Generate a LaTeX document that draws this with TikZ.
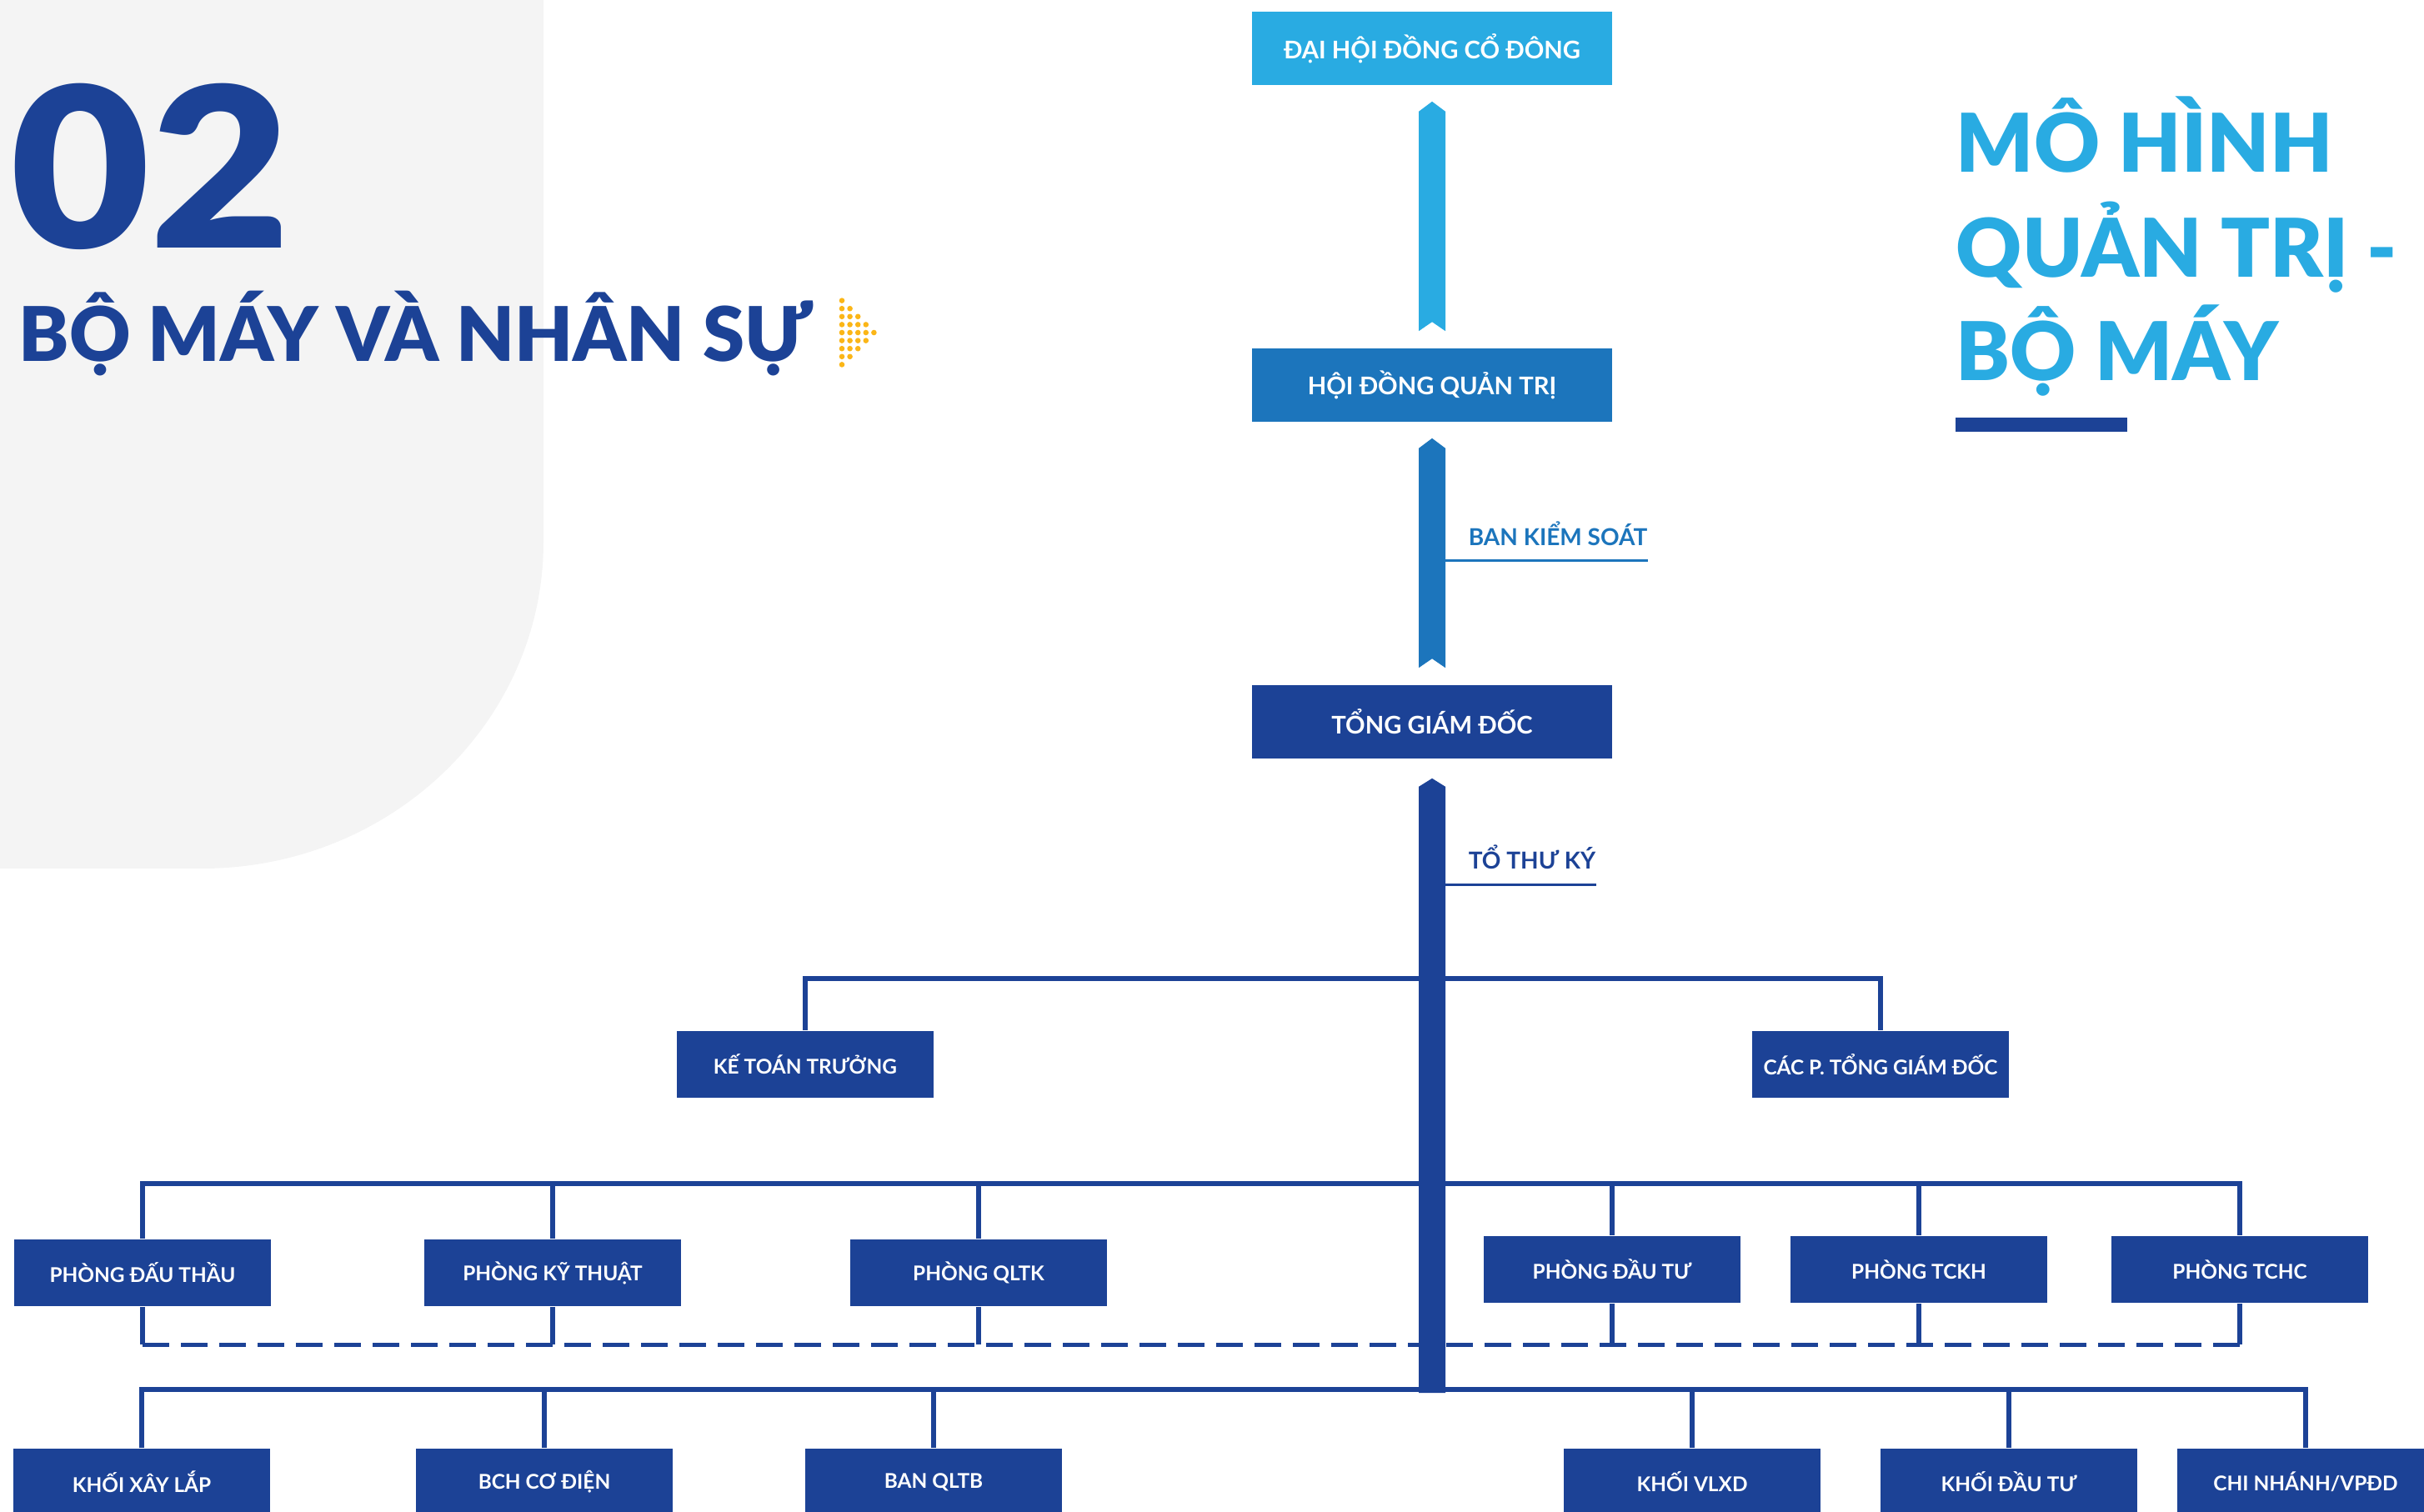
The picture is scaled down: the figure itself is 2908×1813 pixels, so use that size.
\documentclass[tikz,border=0pt]{standalone}
\usepackage{fontspec}
\usepackage{graphicx}
\setmainfont{Lato}
\newfontfamily\heavyfont{Lato Black}
\usetikzlibrary{calc}

\definecolor{darkblue}{RGB}{28,66,150}
\definecolor{midblue}{RGB}{28,117,188}
\definecolor{lightblue}{RGB}{41,171,226}
\definecolor{bggray}{RGB}{244,244,244}
\definecolor{dotyellow}{RGB}{251,182,23}

\tikzset{
  topbox/.style={fill=#1, text=white, minimum width=108pt, minimum height=22pt,
    inner sep=0pt, font=\bfseries\fontsize{7.3}{8}\selectfont},
  unitbox/.style={fill=darkblue, text=white, minimum width=77pt, minimum height=20pt,
    inner sep=0pt, font=\bfseries\fontsize{6.1}{7}\selectfont},
  bus/.style={darkblue, line width=1.6pt},
  dashbus/.style={darkblue, line width=1.25pt, dash pattern=on 8pt off 3.5pt},
  tag/.style={inner sep=0pt, anchor=base west, font=\bfseries\fontsize{7}{8}\selectfont},
  heading/.style={inner sep=0pt, anchor=base west},
}

% thanh noi giua hai o (dau nhon o tren, khuyet o duoi)
\newcommand{\ribbon}[3]{%
  \fill[#1] ($(#2.south)+(0,19)$) -- ++(16,12) -- ($(#3.north)+(16,-20)$)
    -- ++(-16,-11) -- ++(-16,11) -- ($(#2.south)+(-16,31)$) -- cycle;}

\begin{document}
\begin{tikzpicture}[x=0.25pt,y=-0.25pt]
\useasboundingbox (0,0) rectangle (2908,1813);

% nen xam ben trai
\fill[bggray] (0,0) -- (652,0) -- (652,650)
  arc[start angle=0, end angle=90, x radius=410, y radius=392] -- (0,1042) -- cycle;

% tieu de trai
\node[heading, text=darkblue, font=\heavyfont\fontsize{67}{67}\selectfont] (num) at (12,297) {\scalebox{1.08}[1]{02}};
\node[heading, text=darkblue, font=\heavyfont\fontsize{22.6}{24}\selectfont] (sect) at (22,433) {BỘ MÁY VÀ NHÂN SỰ};
\foreach \i in {0,...,4}{
  \pgfmathtruncatemacro\n{4-\i}
  \foreach \j in {-\n,...,\n}
    \fill[dotyellow] ({1010+9.6*\i},{399+9.6*\j}) circle[radius=3.3];
}

% tieu de phai
\node[heading, text=lightblue, font=\heavyfont\fontsize{24.3}{30}\selectfont] (ttl1) at (2346,206) {MÔ HÌNH};
\node[heading, text=lightblue, font=\heavyfont\fontsize{24.3}{30}\selectfont] (ttl2) at (2346,332) {QUẢN TRỊ -};
\node[heading, text=lightblue, font=\heavyfont\fontsize{24.3}{30}\selectfont] (ttl3) at (2346,456) {BỘ MÁY};
\fill[darkblue] (2346,501) rectangle (2552,518);

% cap tren
\node[topbox=lightblue] (dhcd) at (1718,58) {ĐẠI HỘI ĐỒNG CỔ ĐÔNG};
\node[topbox=midblue] (hdqt) at (1718,462) {HỘI ĐỒNG QUẢN TRỊ};
\node[topbox=darkblue] (tgd) at (1718,866) {TỔNG GIÁM ĐỐC};
\ribbon{lightblue}{dhcd}{hdqt}
\ribbon{midblue}{hdqt}{tgd}

\node[tag, text=midblue] (bks) at (1761,654) {BAN KIỂM SOÁT};
\coordinate (bksline) at (1734,672);
\draw[midblue, line width=0.75pt] (bksline) -- (bksline -| bks.east);
\node[tag, text=darkblue] (ttk) at (1761,1042) {TỔ THƯ KÝ};
\coordinate (ttkline) at (1734,1061);
\draw[darkblue, line width=0.75pt] (ttkline) -- (ttkline -| ttk.east);

% hang 1
\node[unitbox] (ktt) at (966,1277) {KẾ TOÁN TRƯỞNG};
\node[unitbox] (cpt) at (2256,1277) {CÁC P. TỔNG GIÁM ĐỐC};
\coordinate (bus1) at (1718,1174);
\draw[bus] (ktt.north) |- (bus1) -| (cpt.north);

% hang 2
\node[unitbox] (pdt) at (171,1527) {PHÒNG ĐẤU THẦU};
\node[unitbox] (pkt) at (663,1527) {PHÒNG KỸ THUẬT};
\node[unitbox] (qltk) at (1174,1527) {PHÒNG QLTK};
\node[unitbox] (pdtu) at (1934,1523) {PHÒNG ĐẦU TƯ};
\node[unitbox] (tckh) at (2302,1523) {PHÒNG TCKH};
\node[unitbox] (tchc) at (2687,1523) {PHÒNG TCHC};
\coordinate (bus2) at (1718,1420);
\coordinate (dash2) at (1718,1613);
\draw[bus] (pdt.north) |- (bus2) -| (tchc.north);
\foreach \b in {pkt,qltk,pdtu,tckh}
  \draw[bus] (\b.north) -- (\b.north |- bus2);
\foreach \b in {pdt,pkt,qltk,pdtu,tckh,tchc}
  \draw[bus] (\b.south) -- (\b.south |- dash2);
\draw[dashbus] (pdt.south |- dash2) -- (tchc.south |- dash2);

% hang 3
\node[unitbox] (kxl) at (170,1778) {KHỐI XÂY LẮP};
\node[unitbox] (bch) at (653,1778) {BCH CƠ ĐIỆN};
\node[unitbox] (qltb) at (1120,1778) {BAN QLTB};
\node[unitbox] (vlxd) at (2030,1778) {KHỐI VLXD};
\node[unitbox] (kdt) at (2410,1778) {KHỐI ĐẦU TƯ};
\node[unitbox] (cn) at (2766,1778) {CHI NHÁNH/VPĐD};
\coordinate (bus3) at (1718,1667);
\draw[bus] (kxl.north) |- (bus3) -| (cn.north);
\foreach \b in {bch,qltb,vlxd,kdt}
  \draw[bus] (\b.north) -- (\b.north |- bus3);

% truc chinh tu tong giam doc
\fill[darkblue] ($(tgd.south)+(0,23)$) -- ++(16,10) -- ($(bus3)+(16,4)$)
  -- ++(-32,0) -- ($(tgd.south)+(-16,33)$) -- cycle;
\end{tikzpicture}
\end{document}
